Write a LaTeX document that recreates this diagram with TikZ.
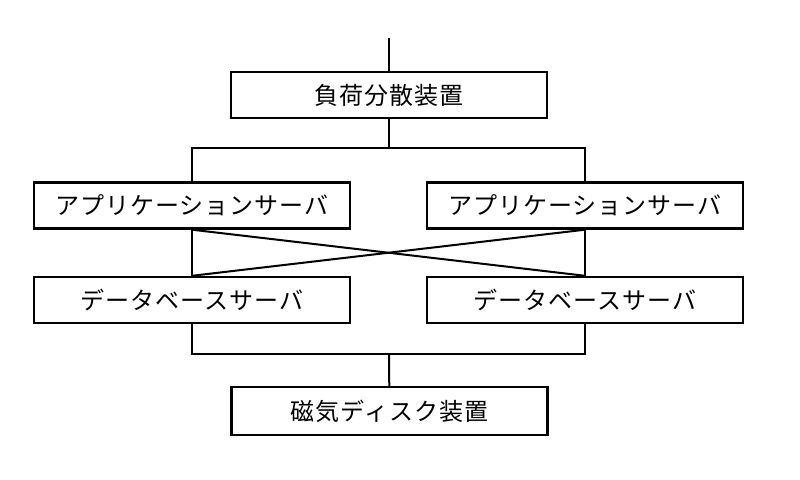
\documentclass[tikz,border=0pt]{standalone}
\usepackage{fontspec}
\newfontfamily\jpfont[LetterSpace=4]{Noto Sans CJK JP}
\begin{document}
\begin{tikzpicture}[x=0.5pt,y=-0.5pt,
  box/.style={draw,line width=1.2pt,inner sep=0pt,minimum width=158pt,minimum height=23pt,font=\jpfont\fontsize{12pt}{14pt}\selectfont},
  conn/.style={line width=1pt}]
\useasboundingbox[fill=white] (0,0) rectangle (800,480);
\coordinate (top) at (389,38);
\node[box] (lb) at (389,95) {負荷分散装置};
\coordinate (split1) at (389,148);
\node[box] (appL) at (192,205.5) {アプリケーションサーバ};
\node[box] (appR) at (585,205.5) {アプリケーションサーバ};
\node[box] (dbL) at (192,300) {データベースサーバ};
\node[box] (dbR) at (585,300) {データベースサーバ};
\coordinate (split2) at (389,354);
\node[box,minimum height=24pt] (disk) at (389.5,411) {磁気ディスク装置};
\draw[conn] (top) -- (lb);
\draw[conn] (lb) -- (split1);
\draw[conn] (appL) |- (split1) -| (appR);
\draw[conn] (appL) -- (dbL);
\draw[conn] (appR) -- (dbR);
\draw[conn] (appL.south) -- (dbR.north);
\draw[conn] (appR.south) -- (dbL.north);
\draw[conn] (dbL) |- (split2) -| (dbR);
\draw[conn] (split2) -- (disk);
\end{tikzpicture}
\end{document}
